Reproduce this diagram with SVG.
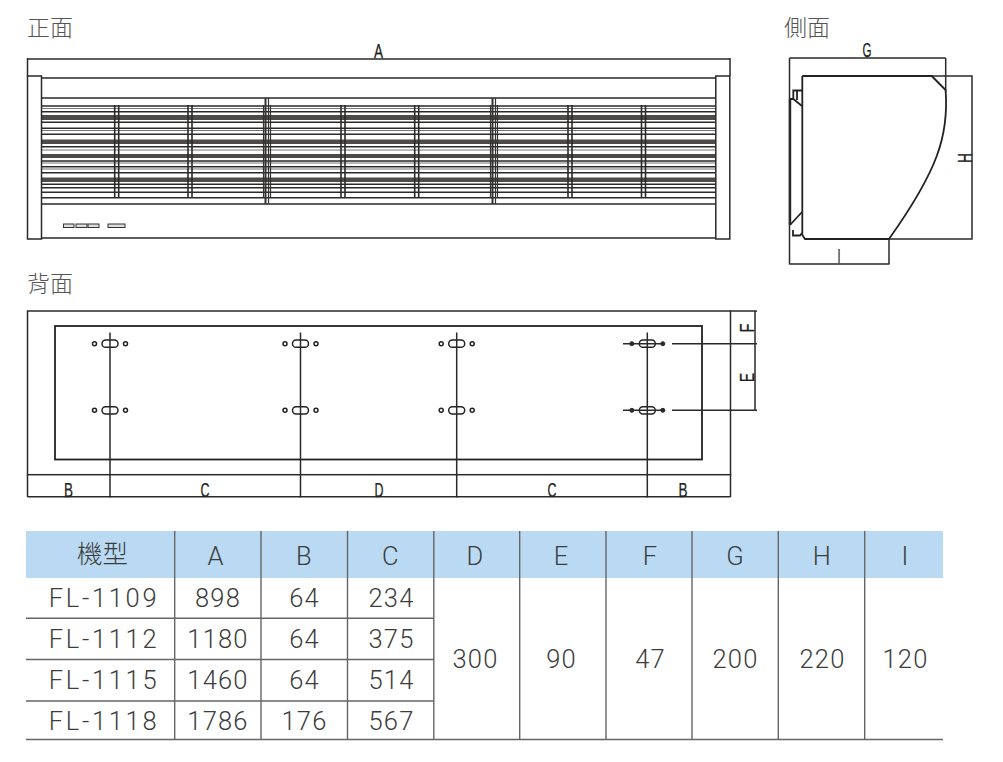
<svg xmlns="http://www.w3.org/2000/svg" xmlns:xlink="http://www.w3.org/1999/xlink" width="1003" height="762" viewBox="0 0 1003 762">
<style>
.l{fill:none;stroke:#2a2a2a;stroke-width:1.5}
.h{fill:none;stroke:#222;stroke-width:1.8}
.sl{fill:none;stroke:#2a2a2a;stroke-width:1.5}
.vl{fill:none;stroke:#2a2a2a;stroke-width:1.6}
.band{fill:#4d4a48}
.dim{font-family:"Liberation Sans",sans-serif;font-size:20px;fill:#222;stroke:#222;stroke-width:.25;text-anchor:middle}
.title{font-family:"Noto Sans CJK TC","Noto Sans CJK SC",sans-serif;font-weight:300;font-size:23px;fill:#555}
.t{font-family:Roboto,"Liberation Sans",sans-serif;font-weight:300;font-size:25.5px;fill:#3c3c3c;text-anchor:middle;letter-spacing:1.2px}
.m{letter-spacing:2.7px}
.g{stroke:#666;stroke-width:1.4;fill:none}
.hole{fill:#fff;stroke:#222;stroke-width:1.5}
.holef{fill:#333;stroke:#222;stroke-width:1}
</style>
<defs>
<g id="slats">
<path class="sl" d="M41 106H716M41 111.7H716M41 122.3H716M41 128.3H716M41 134.3H716M41 146.7H716M41 161H716M41 166.7H716M41 172.7H716M41 184.3H716M41 187.7H716M41 192.3H716M41 197.7H716"/>
<path d="M41 108.5H716M41 130.5H716M41 150H716M41 163H716M41 169H716" stroke="#777" stroke-width="1.2" fill="none"/>
<rect class="band" x="41" y="115" width="675" height="5"/>
<rect class="band" x="41" y="139.5" width="675" height="4.5"/>
<rect class="band" x="41" y="154" width="675" height="4"/>
<rect class="band" x="41" y="177.5" width="675" height="4.5"/>
</g>
<g id="vv"><path class="vl" d="M-2 105V197M2 105V197"/></g>
<g id="hole"><rect class="hole" x="-8" y="-3.6" width="16" height="7.2" rx="3.6"/><circle class="hole" cx="-15.5" r="2"/><circle class="hole" cx="15.5" r="2"/></g>
<g id="holef"><rect class="hole" x="-8" y="-3.6" width="16" height="7.2" rx="3.6"/><circle class="holef" cx="-15.5" r="2"/><circle class="holef" cx="15.5" r="2"/></g>
</defs>
<rect width="1003" height="762" fill="#fff"/>

<g id="titles">
<text class="title" x="27" y="36">正面</text>
<text class="title" x="784" y="36">側面</text>
<text class="title" x="27" y="292">背面</text>
</g>

<g id="front-view">
<path class="l" d="M41 78H716M41 98H716M41 204H716M41 238H716"/>
<use xlink:href="#slats"/>
<use xlink:href="#vv" x="116.7"/><use xlink:href="#vv" x="190"/>
<use xlink:href="#vv" x="343"/><use xlink:href="#vv" x="416.7"/>
<use xlink:href="#vv" x="570"/><use xlink:href="#vv" x="643.5"/>
<path d="M265.5 98V204M492.5 98V204" stroke="#333" stroke-width="2" fill="none"/>
<path d="M268.5 98V204M495.5 98V204" stroke="#333" stroke-width="1.2" fill="none"/>
<path d="M263.5 105V197M270.5 105V197M490.5 105V197M497.5 105V197" stroke="#333" stroke-width="1.2" fill="none"/>
<rect class="l" x="27.5" y="76" width="14" height="163" style="fill:#fff"/>
<rect class="l" x="715.8" y="76" width="14" height="163" style="fill:#fff"/>
<g fill="#ddd" stroke="#333" stroke-width="1">
<rect x="63.5" y="224" width="10.5" height="3.5"/>
<rect x="76" y="224" width="11" height="3.5"/>
<rect x="88" y="224" width="11" height="3.5"/>
<rect x="108" y="224" width="17" height="3.5"/>
</g>
</g>

<g id="side-view">
<path class="h" d="M802.3 76H931.7L945.6 90C949 135 938 170 889 239H805L802.3 235V76"/>
<path class="l" d="M931.7 76H972V239H889"/>
<path class="h" d="M793.3 99V90.5H802M797 90.5V100M789.5 99H793.3L802 106"/>
<path d="M790 99V225" stroke="#222" stroke-width="2.4" fill="none"/>
<path class="h" d="M790 225L802 212M793 230V235.5H800L802 233"/>
</g>

<g id="back-view">
<rect class="l" x="27.5" y="311" width="703" height="163.7"/>
<rect class="h" x="55" y="326" width="647" height="133.5"/>
<use xlink:href="#hole" x="110" y="343.7"/><use xlink:href="#hole" x="110" y="410.3"/>
<use xlink:href="#hole" x="300.5" y="343.7"/><use xlink:href="#hole" x="300.5" y="410.3"/>
<use xlink:href="#hole" x="456.7" y="343.7"/><use xlink:href="#hole" x="456.7" y="410.3"/>
<use xlink:href="#holef" x="647.3" y="343.7"/><use xlink:href="#holef" x="647.3" y="410.3"/>
</g>

<g id="connectors">
<path class="l" d="M27.5 58V76M27.5 59H730M730 58V76"/>
<path class="l" d="M789.5 58H945.7M789.5 58V264.5M945.7 58V92M789.5 264H889M889 239V264.5"/>
<path class="l" d="M27.5 474.7V497M27.5 496.7H730.5M730.5 474V497"/>
<path class="l" d="M110 332.5V497.5M300.5 332.5V497.5M456.7 332.5V497.5M647.3 332.5V497.5"/>
<path class="l" d="M730 311H757M755 311V410.5M623 343.7H639M623 410.3H639M672 343.7H757M672 410.3H757M639 343.7H664M639 410.3H664"/>
</g>

<g id="dimension-labels">
<text class="dim" x="378.5" y="58" textLength="9" lengthAdjust="spacingAndGlyphs">A</text>
<text class="dim" x="867" y="57" textLength="9" lengthAdjust="spacingAndGlyphs">G</text>
<text class="dim" transform="translate(972 158) rotate(-90)" textLength="10" lengthAdjust="spacingAndGlyphs">H</text>
<text class="dim" x="839" y="263" textLength="3" lengthAdjust="spacingAndGlyphs">I</text>
<text class="dim" x="68.5" y="497" textLength="9" lengthAdjust="spacingAndGlyphs">B</text>
<text class="dim" x="205" y="497" textLength="9" lengthAdjust="spacingAndGlyphs">C</text>
<text class="dim" x="379" y="497" textLength="9" lengthAdjust="spacingAndGlyphs">D</text>
<text class="dim" x="552" y="497" textLength="9" lengthAdjust="spacingAndGlyphs">C</text>
<text class="dim" x="683" y="497" textLength="9" lengthAdjust="spacingAndGlyphs">B</text>
<text class="dim" transform="translate(753.5 328) rotate(-90)" textLength="9" lengthAdjust="spacingAndGlyphs">F</text>
<text class="dim" transform="translate(753.5 377.5) rotate(-90)" textLength="9" lengthAdjust="spacingAndGlyphs">E</text>
</g>

<g id="table">
<rect x="26" y="531" width="917" height="47" fill="#b9daf2"/>
<path class="g" d="M174.7 531V739.5M261 531V739.5M347.5 531V739.5M433.8 531V739.5M519.7 531V739.5M606 531V739.5M692 531V739.5M778.3 531V739.5M864.7 531V739.5"/>
<path class="g" d="M26 618.3H433.8M26 659.5H433.8M26 701H433.8M26 739.5H943"/>
<text class="t" x="102.5" y="563" style="font-family:'Noto Sans CJK TC','Noto Sans CJK SC',sans-serif;letter-spacing:0">機型</text>
<text class="t" x="216" y="565">A</text><text class="t" x="304.5" y="565">B</text><text class="t" x="391" y="565">C</text><text class="t" x="475.5" y="565">D</text>
<text class="t" x="561.5" y="565">E</text><text class="t" x="650.5" y="565">F</text><text class="t" x="735.5" y="565">G</text><text class="t" x="822.5" y="565">H</text><text class="t" x="905.5" y="565">I</text>
<text class="t m" x="104" y="607">FL-1109</text><text class="t" x="218" y="607">898</text><text class="t" x="304.5" y="607">64</text><text class="t" x="391.5" y="607">234</text>
<text class="t m" x="104" y="648">FL-1112</text><text class="t" x="218" y="648">1180</text><text class="t" x="304.5" y="648">64</text><text class="t" x="391.5" y="648">375</text>
<text class="t m" x="104" y="689">FL-1115</text><text class="t" x="218" y="689">1460</text><text class="t" x="304.5" y="689">64</text><text class="t" x="391.5" y="689">514</text>
<text class="t m" x="104" y="729.5">FL-1118</text><text class="t" x="218" y="729.5">1786</text><text class="t" x="304.5" y="729.5">176</text><text class="t" x="391.5" y="729.5">567</text>
<text class="t" x="475.5" y="668">300</text><text class="t" x="561.5" y="668">90</text><text class="t" x="650.5" y="668">47</text><text class="t" x="735.5" y="668">200</text><text class="t" x="822.5" y="668">220</text><text class="t" x="905.5" y="668">120</text>
</g>
</svg>
